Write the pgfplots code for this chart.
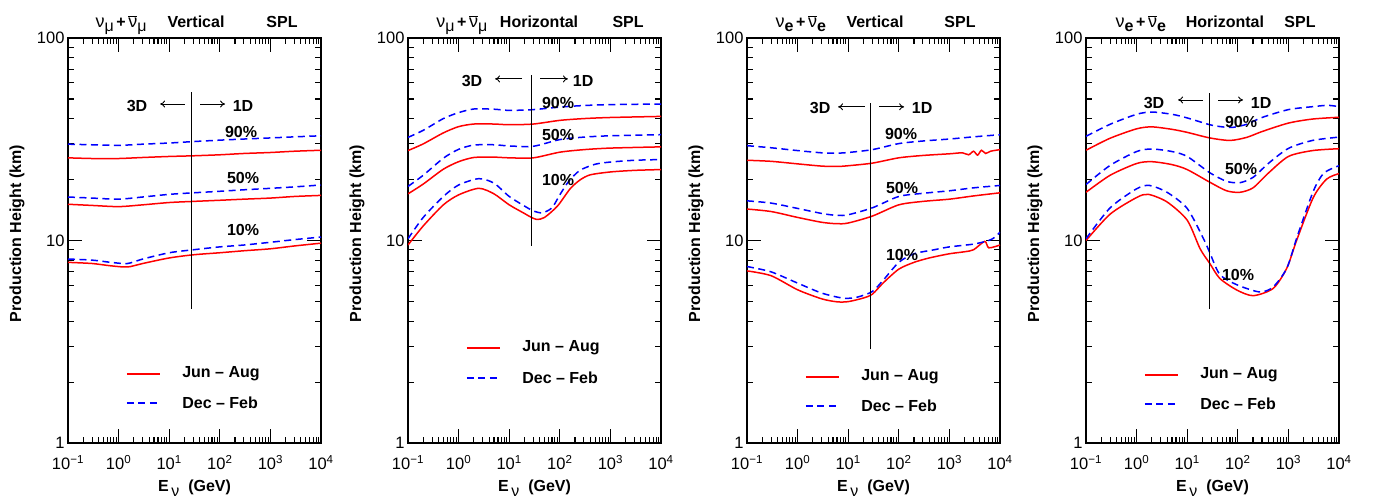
\documentclass[border=0pt]{standalone}
\usepackage{fontspec}
\setmainfont{Liberation Sans}
\usepackage{pgfplots}
\pgfplotsset{compat=1.18}
\usetikzlibrary{arrows.meta}
\definecolor{pred}{RGB}{255,0,0}
\definecolor{pblue}{RGB}{0,0,255}
\newcommand{\lbl}{\fontsize{16}{18}\selectfont\bfseries}
\newcommand{\nuf}{{\fontsize{18}{18}\selectfont\mdseries ν}}
\newcommand{\nubar}{\mbox{$\overline{\mbox{\nuf}}$}}
\newcommand{\numu}{\nuf\raisebox{-0.5ex}{\mdseries μ}\,+\,\nubar\raisebox{-0.5ex}{\mdseries μ}}
\newcommand{\nue}{\nuf\raisebox{-0.5ex}{e}\,+\,\nubar\raisebox{-0.5ex}{e}}
\pgfplotsset{
  every axis/.append style={
    scale only axis, width=253pt, height=405pt, clip mode=individual,
    xmin=0.1, xmax=10000, ymin=1, ymax=100,
    xtick={0.1,1,10,100,1000,10000},
    xticklabels={10\textsuperscript{−1},10\textsuperscript{0},10\textsuperscript{1},10\textsuperscript{2},10\textsuperscript{3},10\textsuperscript{4}},
    ytick={1,10,100}, yticklabels={1,10,100},
    minor xtick={0.2,0.3,0.4,0.5,0.6,0.7,0.8,0.9,2,3,4,5,6,7,8,9,20,30,40,50,60,70,80,90,200,300,400,500,600,700,800,900,2000,3000,4000,5000,6000,7000,8000,9000},
    minor ytick={2,3,4,5,6,7,8,9,20,30,40,50,60,70,80,90},
    tick align=inside, major tick length=14pt, minor tick length=6pt,
    tick style={black, line width=1.1pt},
    axis line style={line width=1.8pt},
    tick label style={font=\fontsize{16.5}{17}\selectfont},
    xticklabel style={yshift=-9pt},
    xlabel={E\,\raisebox{-0.6ex}{\mdseries ν}\ \ (GeV)},
    ylabel={Production Height (km)},
    label style={font=\lbl},
    xlabel style={at={(axis description cs:0.5,-0.112)}, anchor=center},
    ylabel style={at={(axis description cs:-0.2016,0.517)}, anchor=center},
  },
  rl/.style={pred, line width=1.5pt, smooth, tension=0.45},
  bl/.style={pblue, line width=1.5pt, dash pattern=on 7pt off 4.5pt, smooth, tension=0.45},
  vl/.style={black, line width=0.9pt},
}
% manual key: #1 = y of red row, #2 = y of blue row (rel axis cs)
\newcommand{\mykey}[2]{%
\draw[pred, line width=1.5pt] (rel axis cs:0.233,#1) -- (rel axis cs:0.364,#1);
\draw[pblue, line width=1.5pt, dash pattern=on 7pt off 4.5pt] (rel axis cs:0.233,#2) -- (rel axis cs:0.364,#2);
\node[font=\lbl, anchor=west, inner sep=0pt] at (rel axis cs:0.451,#1) {Jun – Aug};
\node[font=\lbl, anchor=west, inner sep=0pt] at (rel axis cs:0.451,#2) {Dec – Feb};}
\begin{document}
\begin{tikzpicture}
\useasboundingbox (0pt,0pt) rectangle (1374pt,499pt);
% ---------------- Panel 1
\begin{loglogaxis}[at={(68pt,56pt)}, anchor=south west]
\addplot[rl] coordinates {(0.1,25.6)(0.3,25.4)(1,25.4)(3,25.7)(10,26.0)(30,26.2)(100,26.5)(300,26.9)(1000,27.2)(3000,27.6)(10000,27.9)};
\addplot[bl] coordinates {(0.1,29.9)(0.3,29.7)(1,29.5)(3,29.9)(10,30.3)(30,30.8)(100,31.3)(300,31.7)(1000,32.1)(3000,32.5)(10000,32.9)};
\addplot[rl] coordinates {(0.1,15.1)(0.3,14.9)(1,14.7)(3,15.0)(10,15.4)(30,15.6)(100,15.8)(300,16.0)(1000,16.2)(3000,16.5)(10000,16.7)};
\addplot[bl] coordinates {(0.1,16.4)(0.3,16.2)(1,16.0)(3,16.4)(10,16.9)(30,17.2)(100,17.5)(300,17.8)(1000,18.1)(3000,18.4)(10000,18.8)};
\addplot[rl] coordinates {(0.1,7.8)(0.3,7.7)(0.7,7.5)(1.5,7.4)(3,7.7)(10,8.2)(30,8.5)(100,8.7)(300,8.9)(1000,9.1)(3000,9.4)(10000,9.7)};
\addplot[bl] coordinates {(0.1,8.1)(0.3,8.0)(0.7,7.8)(1.5,7.7)(3,8.1)(10,8.7)(30,9.0)(100,9.3)(300,9.5)(1000,9.8)(3000,10.1)(10000,10.4)};
\addplot[vl] coordinates {(28,4.6)(28,54)};
\draw[line width=0.9pt, -{To[length=5pt,width=7pt]}] (rel axis cs:0.462,0.837) -- (rel axis cs:0.364,0.837);
\draw[line width=0.9pt, -{To[length=5pt,width=7pt]}] (rel axis cs:0.522,0.837) -- (rel axis cs:0.621,0.837);
\node[font=\lbl] at (rel axis cs:0.273,0.832) {3D};
\node[font=\lbl] at (rel axis cs:0.692,0.832) {1D};
\node[font=\lbl] at (rel axis cs:0.684,0.768) {90\%};
\node[font=\lbl] at (rel axis cs:0.692,0.654) {50\%};
\node[font=\lbl] at (rel axis cs:0.692,0.526) {10\%};
\node[font=\lbl, anchor=base] at (rel axis cs:0.21,1.027) {\numu};
\node[font=\lbl, anchor=base] at (rel axis cs:0.506,1.027) {Vertical};
\node[font=\lbl, anchor=base] at (rel axis cs:0.846,1.027) {SPL};
\mykey{0.170}{0.099}
\end{loglogaxis}
% ---------------- Panel 2
\begin{loglogaxis}[at={(408pt,56pt)}, anchor=south west]
\addplot[rl] coordinates {(0.1,27.8)(0.2,30.0)(0.5,34.0)(1,36.5)(2,37.6)(5,37.6)(10,37.3)(30,37.6)(100,39.2)(300,40.0)(1000,40.5)(10000,41.0)};
\addplot[bl] coordinates {(0.1,32.3)(0.2,35.0)(0.5,40.0)(1,42.8)(2,44.6)(5,44.5)(10,43.9)(30,44.3)(100,45.6)(300,46.4)(1000,46.9)(10000,47.2)};
\addplot[rl] coordinates {(0.1,17.0)(0.2,19.0)(0.5,22.5)(1,24.5)(2,25.7)(5,25.8)(10,25.6)(30,25.6)(100,27.3)(300,28.1)(1000,28.6)(10000,29.0)};
\addplot[bl] coordinates {(0.1,18.5)(0.2,21.0)(0.5,25.5)(1,28.2)(2,29.6)(5,29.7)(10,29.3)(30,29.2)(100,31.5)(300,32.4)(1000,32.9)(10000,33.3)};
\addplot[rl] coordinates {(0.1,9.5)(0.2,11.8)(0.5,15.0)(1,16.8)(2.5,18.1)(5,17.0)(10,15.0)(20,13.6)(26,13.1)(35,12.7)(50,13.0)(90,14.8)(160,18.0)(250,19.9)(400,21.1)(1000,21.8)(3000,22.2)(10000,22.4)};
\addplot[bl] coordinates {(0.1,10.2)(0.2,13.0)(0.5,16.5)(1,18.8)(2.5,20.2)(5,19.2)(10,16.5)(20,14.8)(30,14.0)(45,13.7)(70,14.5)(100,16.8)(150,19.6)(250,22.2)(500,23.8)(1000,24.4)(3000,24.9)(10000,25.1)};
\addplot[vl] coordinates {(28,9.4)(28,65.7)};
\draw[line width=0.9pt, -{To[length=5pt,width=7pt]}] (rel axis cs:0.451,0.899) -- (rel axis cs:0.344,0.899);
\draw[line width=0.9pt, -{To[length=5pt,width=7pt]}] (rel axis cs:0.522,0.899) -- (rel axis cs:0.632,0.899);
\node[font=\lbl] at (rel axis cs:0.253,0.894) {3D};
\node[font=\lbl] at (rel axis cs:0.692,0.894) {1D};
\node[font=\lbl] at (rel axis cs:0.593,0.839) {90\%};
\node[font=\lbl] at (rel axis cs:0.593,0.760) {50\%};
\node[font=\lbl] at (rel axis cs:0.593,0.649) {10\%};
\node[font=\lbl, anchor=base] at (rel axis cs:0.213,1.027) {\numu};
\node[font=\lbl, anchor=base] at (rel axis cs:0.518,1.027) {Horizontal};
\node[font=\lbl, anchor=base] at (rel axis cs:0.870,1.027) {SPL};
\mykey{0.235}{0.160}
\end{loglogaxis}
% ---------------- Panel 3
\begin{loglogaxis}[at={(747pt,56pt)}, anchor=south west]
\addplot[rl] coordinates {(0.1,24.9)(0.3,24.6)(1,23.9)(3,23.3)(6,23.2)(10,23.4)(30,24.1)(100,25.6)(300,26.3)(1000,26.8)(1800,27.1)(2400,26.5)(3000,27.6)(3600,26.4)(4300,27.9)(5200,26.9)(6500,27.6)(10000,28.1)};
\addplot[bl] coordinates {(0.1,29.4)(0.3,28.7)(1,27.8)(3,27.1)(6,27.0)(10,27.2)(30,28.1)(100,30.1)(300,31.0)(1000,31.7)(3000,32.5)(10000,33.3)};
\addplot[rl] coordinates {(0.1,14.3)(0.3,13.9)(1,13.0)(3,12.3)(6,12.1)(10,12.2)(30,13.2)(100,15.0)(300,15.6)(1000,16.0)(3000,16.6)(10000,17.2)};
\addplot[bl] coordinates {(0.1,15.7)(0.3,15.3)(1,14.4)(3,13.6)(6,13.3)(10,13.4)(30,14.5)(100,16.5)(300,17.1)(1000,17.6)(3000,18.2)(10000,18.7)};
\addplot[rl] coordinates {(0.1,7.08)(0.3,6.7)(1,5.71)(3,5.15)(6,4.98)(10,4.99)(20,5.2)(30,5.43)(50,6.2)(100,7.22)(200,7.8)(400,8.2)(1000,8.6)(2000,8.8)(3000,9.0)(5000,9.9)(6000,9.2)(10000,9.5)};
\addplot[bl] coordinates {(0.1,7.44)(0.3,7.0)(1,6.16)(3,5.5)(8,5.19)(15,5.25)(30,5.6)(50,6.4)(100,7.8)(200,8.6)(500,9.0)(1000,9.3)(3000,9.6)(6000,10.0)(8000,10.4)(10000,11.0)};
\addplot[vl] coordinates {(28,2.9)(28,47.7)};
\draw[line width=0.9pt, -{To[length=5pt,width=7pt]}] (rel axis cs:0.466,0.830) -- (rel axis cs:0.360,0.830);
\draw[line width=0.9pt, -{To[length=5pt,width=7pt]}] (rel axis cs:0.522,0.830) -- (rel axis cs:0.621,0.830);
\node[font=\lbl] at (rel axis cs:0.289,0.827) {3D};
\node[font=\lbl] at (rel axis cs:0.692,0.827) {1D};
\node[font=\lbl] at (rel axis cs:0.609,0.763) {90\%};
\node[font=\lbl] at (rel axis cs:0.613,0.630) {50\%};
\node[font=\lbl] at (rel axis cs:0.613,0.464) {10\%};
\node[font=\lbl, anchor=base] at (rel axis cs:0.213,1.027) {\nue};
\node[font=\lbl, anchor=base] at (rel axis cs:0.506,1.027) {Vertical};
\node[font=\lbl, anchor=base] at (rel axis cs:0.842,1.027) {SPL};
\mykey{0.163}{0.091}
\end{loglogaxis}
% ---------------- Panel 4
\begin{loglogaxis}[at={(1086pt,56pt)}, anchor=south west]
\addplot[rl] coordinates {(0.1,27.9)(0.3,32.0)(1,35.6)(2,36.4)(5,35.4)(10,34.2)(28,32.1)(70,31.2)(150,32.3)(300,34.5)(1000,38.0)(3000,39.8)(10000,40.6)};
\addplot[bl] coordinates {(0.1,32.7)(0.3,37.5)(1,42.0)(2,43.1)(5,42.0)(10,40.3)(28,37.3)(50,36.4)(80,36.2)(150,37.5)(300,40.5)(1000,44.3)(3000,45.8)(6000,46.5)(10000,45.8)};
\addplot[rl] coordinates {(0.1,17.3)(0.3,21.0)(1,24.0)(2,24.5)(5,23.7)(10,22.4)(28,19.4)(60,17.6)(110,17.3)(200,18.2)(400,21.5)(1000,26.0)(3000,27.8)(10000,28.4)};
\addplot[bl] coordinates {(0.1,18.9)(0.3,23.5)(1,27.5)(2,28.3)(5,27.5)(10,26.0)(28,21.6)(60,19.6)(110,19.3)(200,20.5)(400,24.0)(1000,28.5)(3000,31.2)(10000,32.4)};
\addplot[rl] coordinates {(0.1,10.0)(0.3,13.5)(1,16.3)(1.7,16.9)(4,15.5)(10,12.6)(18,9.1)(28,7.7)(44,6.5)(95,5.7)(200,5.34)(500,5.8)(930,7.3)(1450,10.0)(3100,16.3)(5700,20.1)(10000,21.4)};
\addplot[bl] coordinates {(0.1,10.2)(0.3,14.5)(1,18.0)(1.8,18.7)(4,17.3)(10,14.4)(21,10.2)(28,8.7)(44,6.8)(95,6.05)(270,5.57)(500,5.9)(930,7.3)(1500,10.5)(3100,17.5)(5000,21.5)(10000,23.4)};
\addplot[vl] coordinates {(28,4.6)(28,53.5)};
\draw[line width=0.9pt, -{To[length=5pt,width=7pt]}] (rel axis cs:0.462,0.847) -- (rel axis cs:0.364,0.847);
\draw[line width=0.9pt, -{To[length=5pt,width=7pt]}] (rel axis cs:0.522,0.847) -- (rel axis cs:0.621,0.847);
\node[font=\lbl] at (rel axis cs:0.269,0.840) {3D};
\node[font=\lbl] at (rel axis cs:0.692,0.840) {1D};
\node[font=\lbl] at (rel axis cs:0.613,0.793) {90\%};
\node[font=\lbl] at (rel axis cs:0.613,0.676) {50\%};
\node[font=\lbl] at (rel axis cs:0.601,0.415) {10\%};
\node[font=\lbl, anchor=base] at (rel axis cs:0.217,1.027) {\nue};
\node[font=\lbl, anchor=base] at (rel axis cs:0.549,1.027) {Horizontal};
\node[font=\lbl, anchor=base] at (rel axis cs:0.846,1.027) {SPL};
\mykey{0.168}{0.096}
\end{loglogaxis}
\end{tikzpicture}
\end{document}
